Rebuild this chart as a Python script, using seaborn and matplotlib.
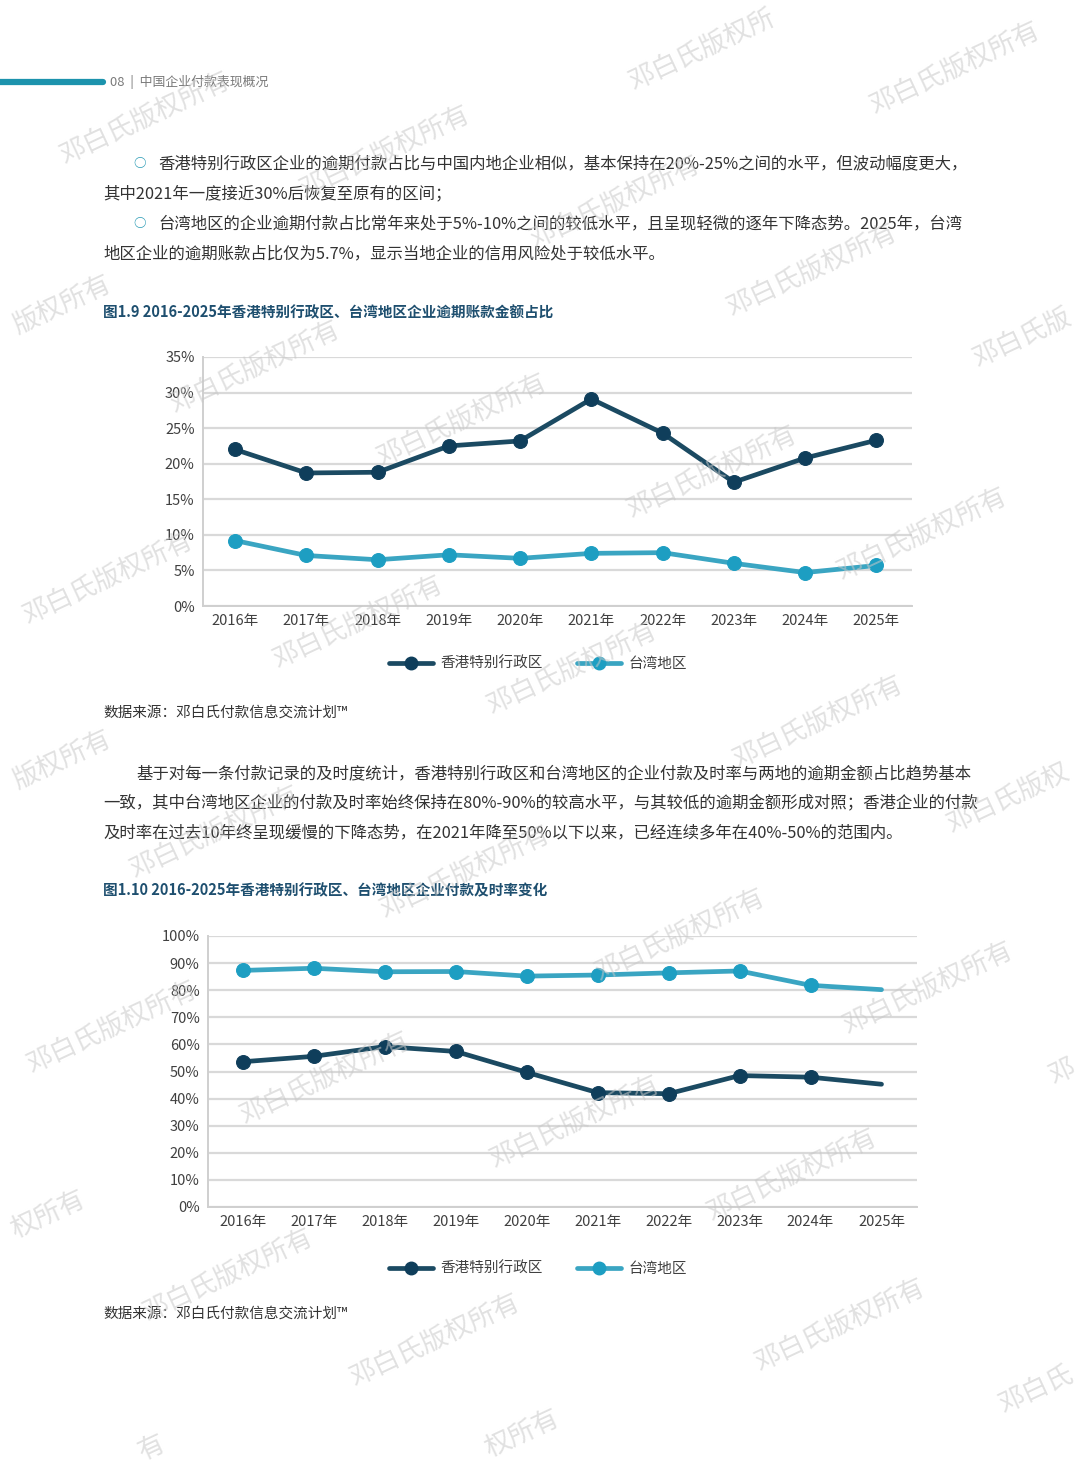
import numpy as np
import pandas as pd
import matplotlib
matplotlib.use("Agg")
import matplotlib.pyplot as plt
import seaborn as sns
from matplotlib.lines import Line2D
from matplotlib.ticker import MultipleLocator, PercentFormatter

# ---------------- data ----------------
years = ["2016年", "2017年", "2018年", "2019年", "2020年",
         "2021年", "2022年", "2023年", "2024年", "2025年"]
regions = ["香港特别行政区", "台湾地区"]

overdue_hk = [22.0, 18.7, 18.8, 22.5, 23.2, 29.1, 24.3, 17.4, 20.8, 23.3]
overdue_tw = [9.2, 7.1, 6.5, 7.2, 6.7, 7.4, 7.5, 6.0, 4.7, 5.7]

ontime_hk = [53.6, 55.6, 59.2, 57.4, 49.7, 42.2, 41.8, 48.5, 47.9, 45.3]
ontime_tw = [87.3, 88.1, 86.8, 86.9, 85.2, 85.6, 86.4, 87.1, 81.8, 80.2]

# ---------------- style ----------------
sns.set_theme(style="white")
plt.rcParams['font.family'] = ['Noto Sans CJK SC', 'DejaVu Sans']
plt.rcParams['axes.unicode_minus'] = False

W, H = 1080, 1466
fig = plt.figure(figsize=(W / 100, H / 100), dpi=100)
fig.patch.set_facecolor("white")

def px(x, y):
    return x / W, 1 - y / H

HK_LINE, HK_MK = "#1b4a62", "#0f3e5b"
TW_LINE, TW_MK = "#3aa5c2", "#1d9ec2"
palette = {regions[0]: HK_LINE, regions[1]: TW_LINE}
TITLE_C = "#1e4f6f"
BODY_C = "#333333"
TICK_C = "#404040"
GRID_C = "#d9d9d9"

def make_df(hk, tw):
    return pd.DataFrame({
        "year": years * 2,
        "region": [regions[0]] * len(years) + [regions[1]] * len(years),
        "value": list(hk) + list(tw),
    })

def style_axes(ax, ymax, step, xlim):
    ax.set_ylim(0, ymax)
    ax.set_xlim(*xlim)
    ax.yaxis.set_major_locator(MultipleLocator(step))
    ax.yaxis.set_major_formatter(PercentFormatter(decimals=0))
    ax.grid(axis="y", color=GRID_C, linewidth=1.6)
    ax.grid(axis="x", visible=False)
    ax.set_axisbelow(True)
    for s in ["top", "right"]:
        ax.spines[s].set_visible(False)
    for s in ["left", "bottom"]:
        ax.spines[s].set_color("#cfcfcf")
        ax.spines[s].set_linewidth(1.4)
    ax.tick_params(axis="both", length=0, labelsize=10.5, labelcolor=TICK_C)
    ax.tick_params(axis="y", pad=6)
    ax.tick_params(axis="x", pad=6)
    ax.set_xlabel("")
    ax.set_ylabel("")

def draw(ax, df, markevery=None):
    for reg, mk in zip(regions, [HK_MK, TW_MK]):
        sub = df[df["region"] == reg]
        kw = {}
        if markevery is not None:
            kw["markevery"] = markevery
        sns.lineplot(data=sub, x="year", y="value", color=palette[reg], ax=ax,
                     marker="o", markersize=10, markerfacecolor=mk,
                     markeredgecolor=mk, linewidth=3.4, sort=False,
                     legend=False, **kw)

def legend_at(ycenter):
    handles = [Line2D([0], [0], color=HK_LINE, lw=3.4, marker="o", ms=9,
                      markerfacecolor=HK_MK, markeredgecolor=HK_MK),
               Line2D([0], [0], color=TW_LINE, lw=3.4, marker="o", ms=9,
                      markerfacecolor=TW_MK, markeredgecolor=TW_MK)]
    lx, ly = px(538, ycenter)
    fig.legend(handles, regions, loc="center", bbox_to_anchor=(lx, ly),
               ncol=2, frameon=False, fontsize=10.5, handlelength=3.0,
               columnspacing=2.4, handletextpad=0.5, labelcolor=TICK_C)

# ---------------- chart 1 ----------------
l, b = px(203, 606)
r, t = px(912, 357)
ax1 = fig.add_axes([l, b, r - l, t - b])
draw(ax1, make_df(overdue_hk, overdue_tw))
style_axes(ax1, 35, 5, (-0.45, 9.5))
legend_at(664)

# ---------------- chart 2 ----------------
l, b = px(208, 1207)
r, t = px(917, 936)
ax2 = fig.add_axes([l, b, r - l, t - b])
draw(ax2, make_df(ontime_hk, ontime_tw), markevery=list(range(len(years) - 1)))
style_axes(ax2, 100, 10, (-0.49, 9.5))
legend_at(1269)

# ---------------- page text ----------------
# header bar
fig.add_artist(Line2D([0, 103 / W], [1 - 82 / H] * 2, color="#1c93ad", lw=4.5,
                      transform=fig.transFigure))
fig.text(*px(110, 82), "08  |  中国企业付款表现概况", fontsize=9.3, color="#7a7a7a",
         va="center", ha="left")

def body(x, y, s, **kw):
    fig.text(*px(x, y), s, fontsize=11.8, color=BODY_C, va="center", ha="left", **kw)

def bullet(y):
    fig.text(*px(140, y), "○", fontsize=9, color="#2a9bb5", va="center",
             ha="center", fontweight="bold")

bullet(164)
body(158, 164, "香港特别行政区企业的逾期付款占比与中国内地企业相似，基本保持在20%-25%之间的水平，但波动幅度更大，")
body(103, 194, "其中2021年一度接近30%后恢复至原有的区间；")
bullet(224)
body(158, 224, "台湾地区的企业逾期付款占比常年来处于5%-10%之间的较低水平，且呈现轻微的逐年下降态势。2025年，台湾")
body(103, 254, "地区企业的逾期账款占比仅为5.7%，显示当地企业的信用风险处于较低水平。")

fig.text(*px(103, 312), "图1.9 2016-2025年香港特别行政区、台湾地区企业逾期账款金额占比",
         fontsize=10.5, fontweight="bold", color=TITLE_C, va="center", ha="left")
fig.text(*px(103, 713), "数据来源：邓白氏付款信息交流计划™", fontsize=10.5,
         color=BODY_C, va="center", ha="left")

body(136, 774, "基于对每一条付款记录的及时度统计，香港特别行政区和台湾地区的企业付款及时率与两地的逾期金额占比趋势基本")
body(103, 803, "一致，其中台湾地区企业的付款及时率始终保持在80%-90%的较高水平，与其较低的逾期金额形成对照；香港企业的付款")
body(103, 833, "及时率在过去10年终呈现缓慢的下降态势，在2021年降至50%以下以来，已经连续多年在40%-50%的范围内。")

fig.text(*px(103, 890), "图1.10 2016-2025年香港特别行政区、台湾地区企业付款及时率变化",
         fontsize=10.5, fontweight="bold", color=TITLE_C, va="center", ha="left")
fig.text(*px(103, 1314), "数据来源：邓白氏付款信息交流计划™", fontsize=10.5,
         color=BODY_C, va="center", ha="left")

# ---------------- watermarks ----------------
WM = "邓白氏版权所有"
wm_full = [(955, 68), (145, 118), (385, 152), (615, 202), (812, 270),
           (255, 367), (462, 420), (712, 472), (922, 534),
           (108, 578), (358, 622), (572, 668), (818, 722),
           (215, 832), (465, 872), (680, 935), (928, 988), (112, 1027), (325, 1078),
           (575, 1122), (792, 1175), (228, 1275), (435, 1340), (840, 1325)]
# watermarks that the page edge cuts: only their visible part
wm_part = [("邓白氏版权所", 702, 50), ("版权所有", 62, 305), ("邓白氏版", 1022, 338),
           ("版权所有", 62, 760), ("邓白氏版权", 1008, 798), ("邓", 1062, 1072),
           ("权所有", 48, 1215), ("邓白氏", 1036, 1390), ("权所有", 522, 1434),
           ("有", 152, 1448)]
for (x, y) in wm_full:
    fig.text(*px(x, y), WM, fontsize=19, color="#c8c8c8", alpha=0.55,
             rotation=25, ha="center", va="center", zorder=100)
for (s, x, y) in wm_part:
    fig.text(*px(x, y), s, fontsize=19, color="#c8c8c8", alpha=0.55,
             rotation=25, ha="center", va="center", zorder=100)

fig.savefig("out.png", dpi=100, facecolor="white")
